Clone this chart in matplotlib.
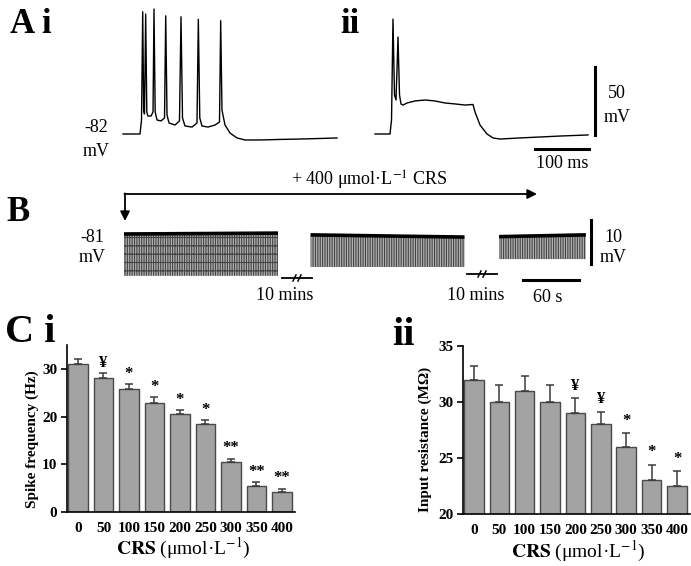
import numpy as np
import matplotlib
matplotlib.use('Agg')
import matplotlib.pyplot as plt

plt.rcParams['font.family'] = ['Liberation Serif', 'DejaVu Serif']
plt.rcParams['mathtext.fontset'] = 'stix'
plt.rcParams['hatch.linewidth'] = 0.8

W, H = 691, 566

# A i: spike train (ms, mV)
ai_t = [0, 31.5, 34.3, 36.5, 38.3, 39.8, 42.0, 44.1, 46.3, 51.9, 55.6, 57.4, 59.6, 63.0,
        70.4, 76.9, 79.1, 81.5, 85.2, 96.3, 104.6, 107.4, 110.2, 114.8, 127.8, 137.0,
        139.5, 142.2, 146.3, 157.4, 170.4, 178.7, 180.9, 183.3, 188.9, 198.2, 211.1,
        225.9, 253.7, 290.8, 327.8, 364.8, 396.3]
ai_v = [-82, -82, -71.7, 7.9, -64.4, -67.3, 6.2, -65.8, -68.8, -68.8, -65.8, 9.9, -65.8, -71.7,
        -72.4, -70.2, 4.9, -68.0, -73.9, -75.4, -72.4, 4.2, -70.2, -76.1, -76.9, -73.9,
        2.3, -70.2, -76.1, -76.9, -75.4, -73.2, 1.3, -64.4, -75.4, -81.3, -84.9,
        -86.4, -86.4, -86.0, -85.7, -85.3, -84.9]

# A ii: after CRS (ms, mV)
aii_t = [0, 27.8, 30.6, 33.3, 36.1, 38.9, 42.6, 45.4, 48.2, 51.9, 59.3, 74.1, 92.6, 111.1,
         129.6, 148.2, 166.7, 181.5, 185.2, 194.5, 207.4, 218.5, 231.5, 268.5, 305.6, 342.6, 394.5]
aii_v = [-82, -82, -71.7, 2.5, -53.3, -57.0, -10.7, -53.3, -60.0, -60.7, -59.2, -57.7, -57.0, -57.7,
         -59.2, -59.9, -60.7, -60.3, -65.8, -75.4, -82.0, -84.9, -85.7, -84.9, -84.2, -83.5, -82.7]

# B: three continuous recording blocks (s, mV)
b_start = [0, 200, 402]
b_end = [165, 365, 495]
b_top_start = [-81.0, -81.2, -81.6]
b_top_end = [-80.8, -81.7, -81.2]
b_bottom = [-90.5, -88.5, -86.7]
b_hatch = ['|||||||--', '|||||||', '|||||||']

# C: concentration response
conc = ['0', '50', '100', '150', '200', '250', '300', '350', '400']
freq = [31.0, 28.0, 25.8, 22.9, 20.5, 18.4, 10.4, 5.4, 4.1]
freq_err = [1.0, 1.1, 1.0, 1.1, 0.8, 0.8, 0.8, 0.8, 0.8]
freq_marks = ['', '¥', '*', '*', '*', '*', '**', '**', '**']
rin = [32.0, 30.0, 31.0, 30.0, 29.0, 28.0, 26.0, 23.0, 22.5]
rin_err = [1.2, 1.5, 1.35, 1.5, 1.35, 1.15, 1.2, 1.4, 1.3]
rin_marks = ['', '', '', '', '¥', '¥', '*', '*', '*']

fig = plt.figure(figsize=(W / 100, H / 100), dpi=100)


def px_axes(l, r, t, b):
    return fig.add_axes([l / W, 1 - b / H, (r - l) / W, (b - t) / H])


def trace_axes(box, x0_px, x0_val, xscale, y0_px, y0_val, yscale):
    l, r, t, b = box
    ax = px_axes(l, r, t, b)
    ax.set_xlim(x0_val + (l - x0_px) / xscale, x0_val + (r - x0_px) / xscale)
    ax.set_ylim(y0_val - (b - y0_px) / yscale, y0_val - (t - y0_px) / yscale)
    ax.axis('off')
    return ax


# overlay for labels (pixel coords)
ov = px_axes(0, W, 0, H)
ov.set_xlim(0, W)
ov.set_ylim(H, 0)
ov.axis('off')

# ---- A ----
axai = trace_axes((100, 350, 0, 160), 123, 0, 0.54, 134, -82, 1.36)
axai.plot(ai_t, ai_v, color='k', lw=1.0)

axaii = trace_axes((360, 691, 0, 175), 375, 0, 0.54, 134, -82, 1.36)
axaii.plot(aii_t, aii_v, color='k', lw=1.0)
# scale bars 50 mV / 100 ms
axaii.plot([407.4, 407.4], [-82.7, -32.7], color='k', lw=2.2, clip_on=False)
axaii.plot([296.3, 396.3], [-93.0, -93.0], color='k', lw=2.2, clip_on=False)

ov.text(10, 33, 'A i', fontsize=25, fontweight='bold', va='baseline')
ov.text(340, 33, 'ii', fontsize=25, fontweight='bold', va='baseline')
ov.text(96, 127, '-82', fontsize=13, ha='center', va='center')
ov.text(96, 151, 'mV', fontsize=13, ha='center', va='center')
ov.text(617, 93, '50', fontsize=13, ha='center', va='center')
ov.text(617, 117, 'mV', fontsize=13, ha='center', va='center')
ov.text(562, 163, '100 ms', fontsize=13, ha='center', va='center')

# ---- B ----
axb = trace_axes((100, 691, 185, 300), 124, 0, 0.933, 234, -81, 4.4)
for s, e, v0, v1, bot, hp in zip(b_start, b_end, b_top_start, b_top_end, b_bottom, b_hatch):
    axb.fill_between([s, e], [bot, bot], [v0, v1], facecolor='#b0b0b0',
                     edgecolor='#454545', hatch=hp, lw=0)
    axb.plot([s, e], [v0, v1], color='k', lw=2.6, solid_capstyle='butt')
# scale bars 10 mV / 60 s
axb.plot([501, 501], [-87.8, -77.8], color='k', lw=2.2, clip_on=False)
axb.plot([427.3, 487.3], [-91.5, -91.5], color='k', lw=2.2, clip_on=False)

ov.text(6, 221, 'B', fontsize=25, fontweight='bold', va='baseline')
ov.annotate('', xy=(537, 194), xytext=(124.5, 194),
            arrowprops=dict(arrowstyle='-|>', lw=1.3, color='k', mutation_scale=14,
                            shrinkA=0, shrinkB=0))
ov.annotate('', xy=(125, 221), xytext=(125, 193.4),
            arrowprops=dict(arrowstyle='-|>', lw=1.3, color='k', mutation_scale=14,
                            shrinkA=0, shrinkB=0))
ov.text(369, 180, '+ 400 μmol·L$^{-1}$ CRS', fontsize=13, ha='center', va='center')
ov.text(92, 238, '-81', fontsize=13, ha='center', va='center')
ov.text(92, 258, 'mV', fontsize=13, ha='center', va='center')
ov.text(613, 237, '10', fontsize=13, ha='center', va='center')
ov.text(613, 257, 'mV', fontsize=13, ha='center', va='center')
for cx, cy in [(297, 278), (482, 274)]:
    ov.plot([cx - 15, cx + 15], [cy, cy], color='k', lw=1.3)
    ov.plot([cx - 4, cx - 1], [cy + 3, cy - 3], color='k', lw=1.1)
    ov.plot([cx + 1, cx + 4], [cy + 3, cy - 3], color='k', lw=1.1)
ov.text(285, 296, '10 mins', fontsize=13, ha='center', va='center')
ov.text(476, 296, '10 mins', fontsize=13, ha='center', va='center')
ov.text(548, 297, '60 s', fontsize=13, ha='center', va='center')

# ---- C ----
ov.text(5, 342, 'C i', fontsize=29, fontweight='bold', va='baseline')
ov.text(392, 345, 'ii', fontsize=29, fontweight='bold', va='baseline')


def bar_panel(ax, vals, errs, marks, ylim, yticks, ylabel, ylab_xy, xlab_xy, mark_off):
    x = np.arange(len(conc))
    ax.bar(x, vals, width=0.77, color='#a3a3a3', edgecolor='#4a4a4a', lw=1.0,
           yerr=[np.zeros(len(errs)), errs], capsize=3,
           error_kw=dict(ecolor='#3a3a3a', elinewidth=1.1, capthick=1.1))
    for xi, v, e, m in zip(x, vals, errs, marks):
        if m:
            ax.text(xi, v + e + mark_off, m, ha='center', va='center',
                    fontsize=12, fontweight='bold')
    ax.set_xlim(-0.43, 8.51)
    ax.set_ylim(*ylim)
    ax.set_yticks(yticks)
    ax.set_xticks(x)
    ax.set_xticklabels(conc)
    for sp in ['top', 'right']:
        ax.spines[sp].set_visible(False)
    for sp in ['left', 'bottom']:
        ax.spines[sp].set_linewidth(1.2)
    ax.tick_params(axis='y', direction='out', length=4, width=1.2, pad=3)
    ax.tick_params(axis='x', length=0, pad=7)
    for lab in ax.get_xticklabels() + ax.get_yticklabels():
        lab.set_fontweight('bold')
        lab.set_fontsize(11)
    ax.set_ylabel(ylabel, fontsize=11, fontweight='bold', va='center')
    ax.yaxis.set_label_coords(*ylab_xy)
    ax.set_xlabel(r'$\mathbf{CRS}$ (μmol·L$^{-1}$)', fontsize=14, va='center')
    ax.xaxis.set_label_coords(*xlab_xy)


axci = px_axes(67, 295, 345, 512)
bar_panel(axci, freq, freq_err, freq_marks, (0, 35), [0, 10, 20, 30],
          'Spike frequency (Hz)', (-0.154, 0.437), (0.509, -0.216), 2.2)

axcii = px_axes(463, 690, 346, 514)
bar_panel(axcii, rin, rin_err, rin_marks, (20, 35), [20, 25, 30, 35],
          'Input resistance (MΩ)', (-0.167, 0.446), (0.507, -0.222), 1.1)

fig.savefig('out.png', dpi=100)
